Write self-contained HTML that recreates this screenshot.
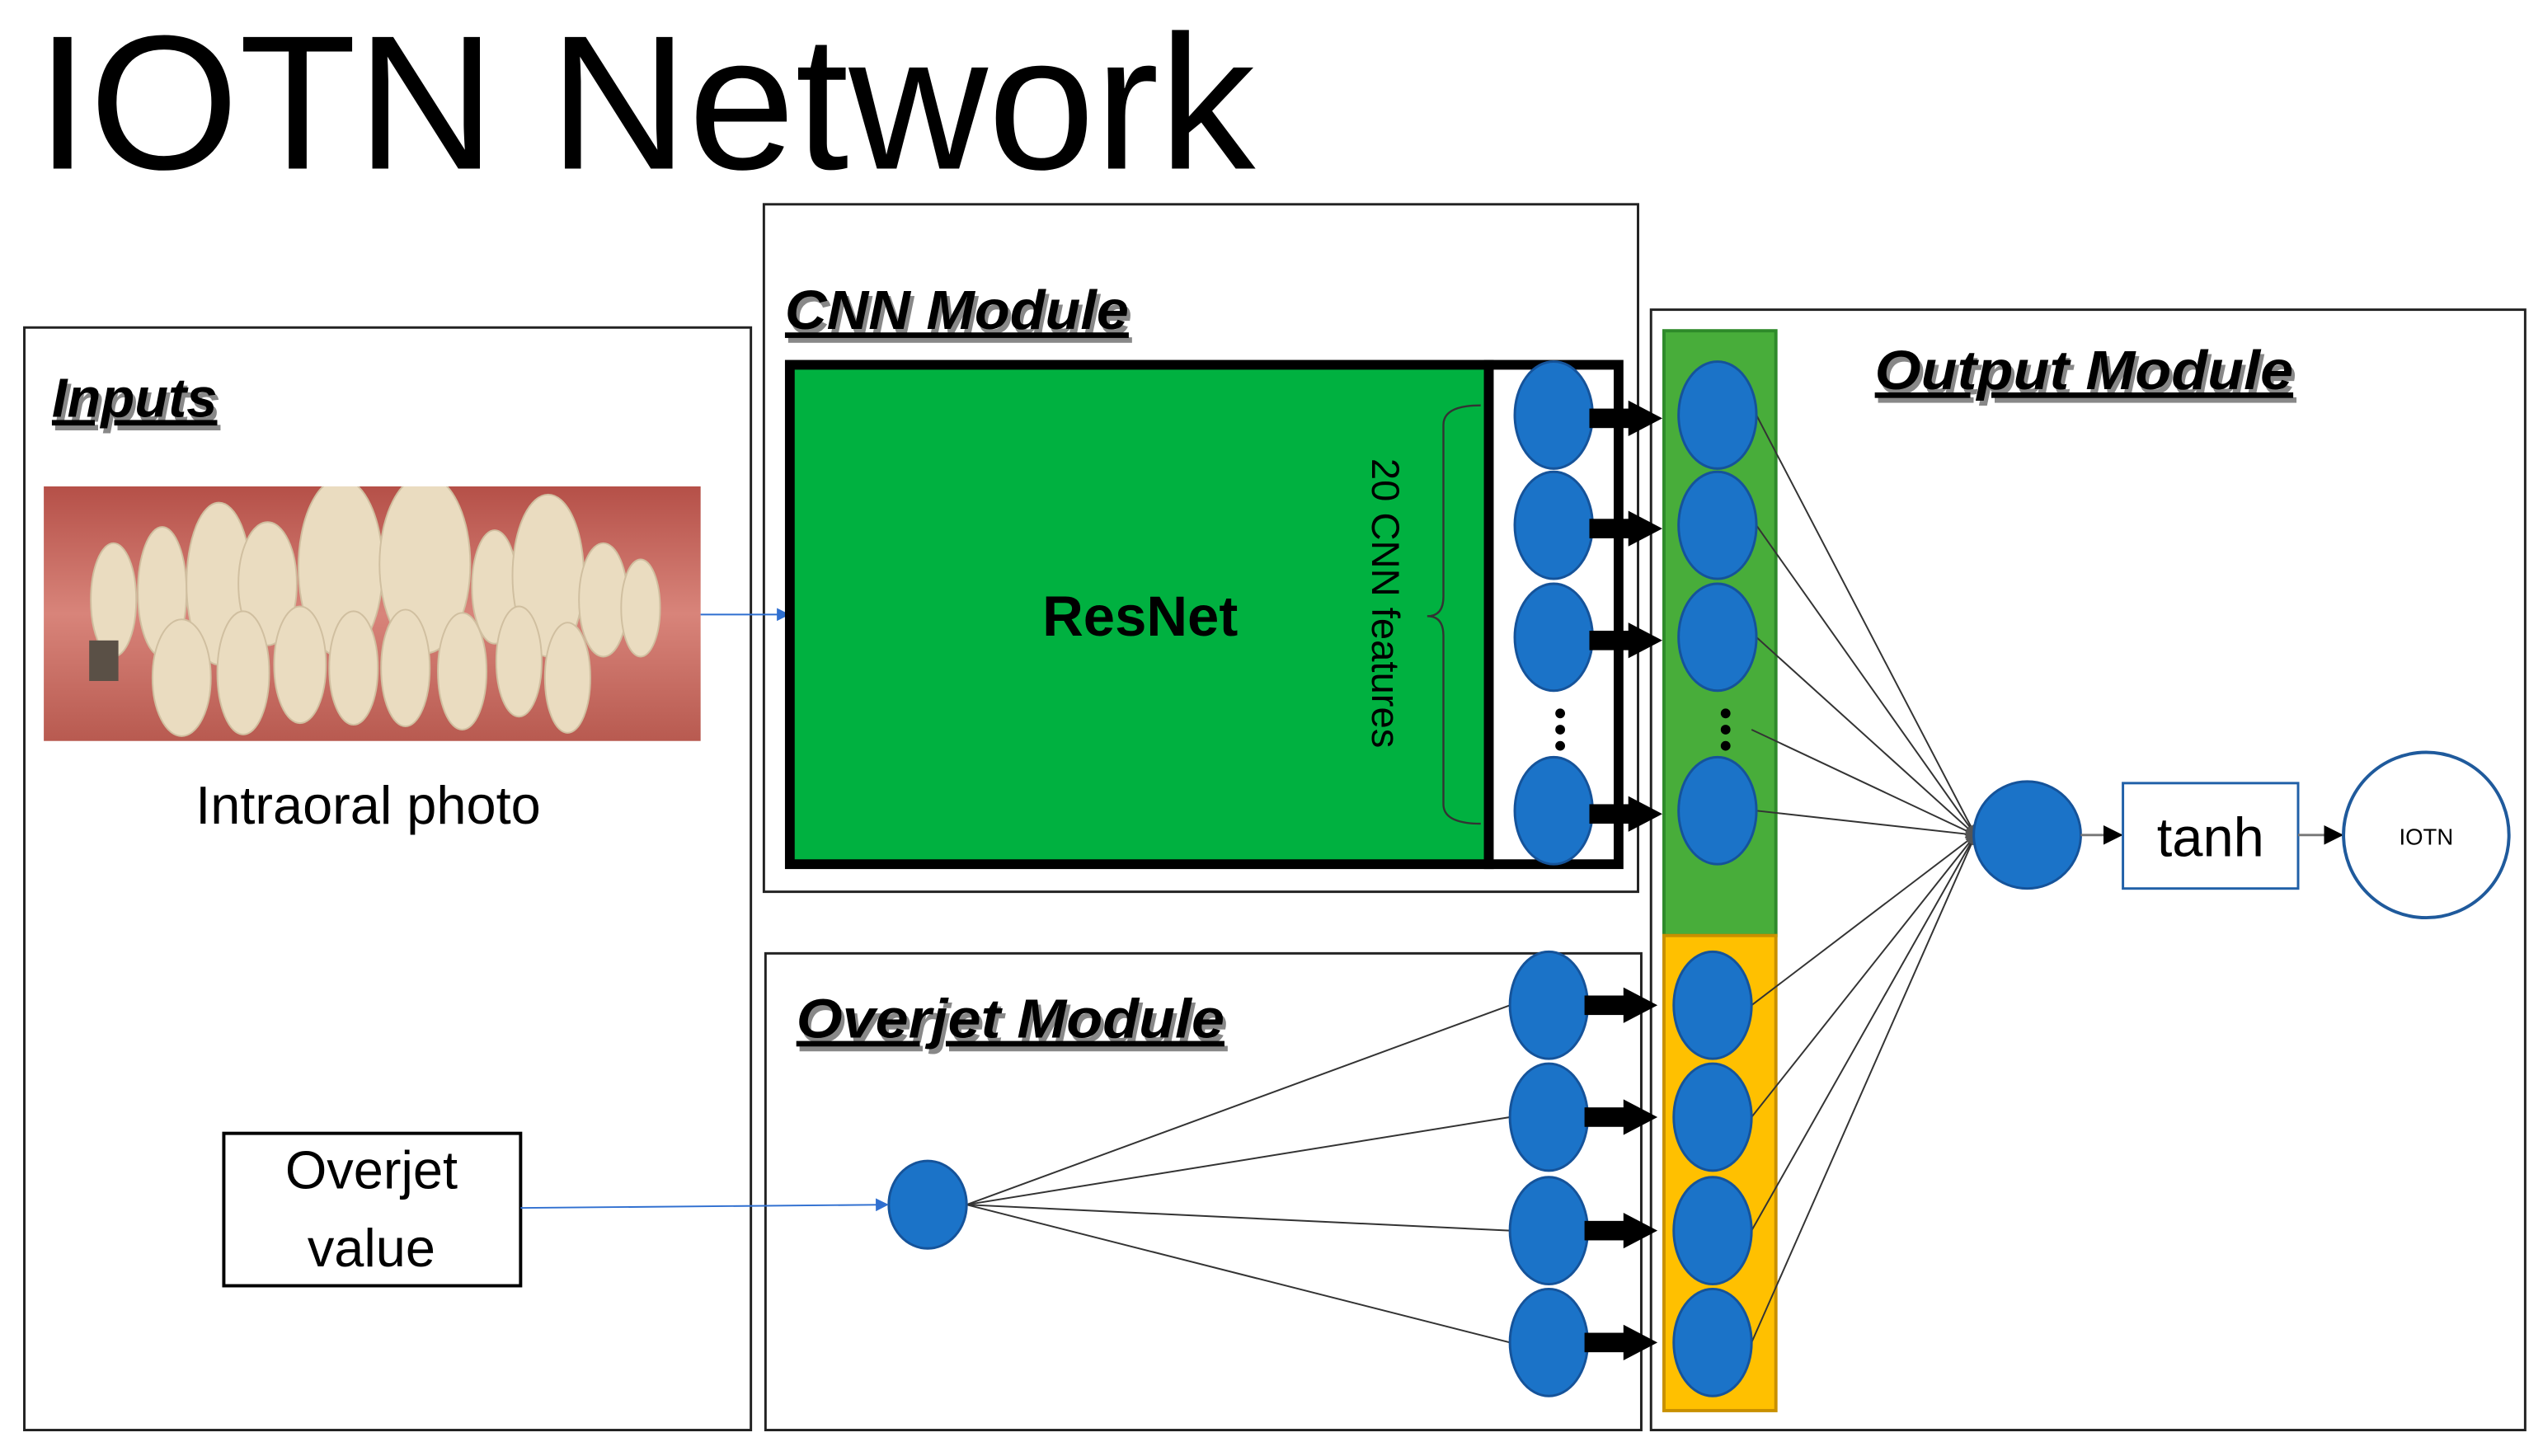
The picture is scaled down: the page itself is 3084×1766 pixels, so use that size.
<!DOCTYPE html>
<html><head><meta charset="utf-8"><style>
html,body{margin:0;padding:0;background:#fff;width:3084px;height:1766px;overflow:hidden}
svg{display:block}
text{font-family:"Liberation Sans",sans-serif}
.lbl{font-weight:bold;font-style:italic;font-size:34px;text-decoration:underline}
</style></head><body>
<svg width="3084" height="1766" viewBox="0 0 1568 898" preserveAspectRatio="none" xmlns="http://www.w3.org/2000/svg">
<defs>
<marker id="ab" markerWidth="8" markerHeight="8" refX="7" refY="4" orient="auto" markerUnits="userSpaceOnUse"><path d="M0,0 L8,4 L0,8z" fill="#2f6fd0"/></marker>
<marker id="ak" markerWidth="12" markerHeight="12" refX="11" refY="6" orient="auto" markerUnits="userSpaceOnUse"><path d="M0,0 L12,6 L0,12z" fill="#000"/></marker>
<marker id="at" markerWidth="6" markerHeight="6" refX="6" refY="3" orient="auto" markerUnits="userSpaceOnUse"><path d="M0,0 L6,3 L0,6z" fill="#555"/></marker>
<linearGradient id="gum" x1="0" y1="0" x2="0" y2="1"><stop offset="0" stop-color="#b55048"/><stop offset="0.5" stop-color="#d8847a"/><stop offset="1" stop-color="#b85a50"/></linearGradient>
<clipPath id="ph"><rect x="27" y="300" width="405" height="157"/></clipPath>
<g id="tk"><rect x="0" y="-6" width="26" height="12" fill="#000"/><path d="M24,-11 L45,0 L24,11z" fill="#000"/></g>
</defs>
<text x="22" y="104" font-size="118" fill="#000" textLength="752" lengthAdjust="spacingAndGlyphs">IOTN Network</text>

<rect x="15" y="202" width="448" height="680" fill="none" stroke="#222" stroke-width="1.5"/>
<rect x="471" y="126" width="539" height="424" fill="none" stroke="#222" stroke-width="1.5"/>
<rect x="472" y="588" width="540" height="294" fill="none" stroke="#222" stroke-width="1.5"/>
<rect x="1018" y="191" width="539" height="691" fill="none" stroke="#222" stroke-width="1.5"/>

<text x="34" y="260" fill="#888" class="lbl">Inputs</text><text x="32" y="257" class="lbl">Inputs</text>
<text x="486" y="206" fill="#888" class="lbl" textLength="212" lengthAdjust="spacingAndGlyphs">CNN Module</text><text x="484" y="203" class="lbl" textLength="212" lengthAdjust="spacingAndGlyphs">CNN Module</text>
<text x="1158" y="243" fill="#888" class="lbl" textLength="258" lengthAdjust="spacingAndGlyphs">Output Module</text><text x="1156" y="240" class="lbl" textLength="258" lengthAdjust="spacingAndGlyphs">Output Module</text>
<text x="493" y="643" fill="#888" class="lbl" textLength="264" lengthAdjust="spacingAndGlyphs">Overjet Module</text><text x="491" y="640" class="lbl" textLength="264" lengthAdjust="spacingAndGlyphs">Overjet Module</text>

<!-- photo -->
<rect x="27" y="300" width="405" height="157" fill="url(#gum)"/>
<g clip-path="url(#ph)" fill="#eadcc0" stroke="#d0bfa0" stroke-width="1">
<ellipse cx="70" cy="370" rx="14" ry="35"/><ellipse cx="100" cy="365" rx="15" ry="40"/><ellipse cx="135" cy="360" rx="20" ry="50"/>
<ellipse cx="165" cy="360" rx="18" ry="38"/><ellipse cx="210" cy="350" rx="26" ry="55"/><ellipse cx="262" cy="348" rx="28" ry="55"/>
<ellipse cx="305" cy="362" rx="14" ry="35"/><ellipse cx="338" cy="355" rx="22" ry="50"/><ellipse cx="372" cy="370" rx="15" ry="35"/><ellipse cx="395" cy="375" rx="12" ry="30"/>
<ellipse cx="112" cy="418" rx="18" ry="36"/><ellipse cx="150" cy="415" rx="16" ry="38"/><ellipse cx="185" cy="410" rx="16" ry="36"/>
<ellipse cx="218" cy="412" rx="15" ry="35"/><ellipse cx="250" cy="412" rx="15" ry="36"/><ellipse cx="285" cy="414" rx="15" ry="36"/>
<ellipse cx="320" cy="408" rx="14" ry="34"/><ellipse cx="350" cy="418" rx="14" ry="34"/>
</g>
<rect x="55" y="395" width="18" height="25" fill="#5a5046"/>
<text x="227" y="508" font-size="33" text-anchor="middle">Intraoral photo</text>
<line x1="432" y1="379" x2="486" y2="379" stroke="#2f6fd0" stroke-width="1" marker-end="url(#ab)"/>

<!-- ResNet -->
<rect x="487" y="225" width="431" height="308" fill="#00b140" stroke="#000" stroke-width="6"/>
<rect x="918" y="225" width="80" height="308" fill="#fff" stroke="#000" stroke-width="6"/>
<text x="703" y="392" font-size="35" font-weight="bold" text-anchor="middle">ResNet</text>
<path d="M913,250 Q890,250 890,262 L890,368 Q890,380 880,380 Q890,380 890,392 L890,496 Q890,508 913,508" fill="none" stroke="#333" stroke-width="1.2"/>
<text transform="translate(846,372) rotate(90)" font-size="24" text-anchor="middle">20 CNN features</text>

<!-- columns -->
<rect x="1026" y="204" width="69" height="373" fill="#48ad3a" stroke="#2e8a2a" stroke-width="2"/>
<rect x="1026" y="577" width="69" height="293" fill="#ffc000" stroke="#c89000" stroke-width="2"/>

<!-- fan lines -->
<g stroke="#333" stroke-width="1" marker-end="url(#at)">
<line x1="1083" y1="256" x2="1218" y2="515"/><line x1="1083" y1="324" x2="1218" y2="515"/><line x1="1083" y1="393" x2="1218" y2="515"/>
<line x1="1080" y1="450" x2="1218" y2="515"/><line x1="1083" y1="500" x2="1218" y2="515"/>
<line x1="1080" y1="620" x2="1218" y2="515"/><line x1="1080" y1="689" x2="1218" y2="515"/><line x1="1080" y1="759" x2="1218" y2="515"/><line x1="1080" y1="828" x2="1218" y2="515"/>
</g>
<g stroke="#333" stroke-width="1">
<line x1="596" y1="743" x2="931" y2="620"/><line x1="596" y1="743" x2="931" y2="689"/><line x1="596" y1="743" x2="931" y2="759"/><line x1="596" y1="743" x2="931" y2="828"/>
</g>

<g fill="#1b73c8" stroke="#15539a" stroke-width="1.5">
<ellipse cx="958" cy="256" rx="24" ry="33"/><ellipse cx="958" cy="324" rx="24" ry="33"/><ellipse cx="958" cy="393" rx="24" ry="33"/><ellipse cx="958" cy="500" rx="24" ry="33"/>
<ellipse cx="1059" cy="256" rx="24" ry="33"/><ellipse cx="1059" cy="324" rx="24" ry="33"/><ellipse cx="1059" cy="393" rx="24" ry="33"/><ellipse cx="1059" cy="500" rx="24" ry="33"/>
<ellipse cx="955" cy="620" rx="24" ry="33"/><ellipse cx="955" cy="689" rx="24" ry="33"/><ellipse cx="955" cy="759" rx="24" ry="33"/><ellipse cx="955" cy="828" rx="24" ry="33"/>
<ellipse cx="1056" cy="620" rx="24" ry="33"/><ellipse cx="1056" cy="689" rx="24" ry="33"/><ellipse cx="1056" cy="759" rx="24" ry="33"/><ellipse cx="1056" cy="828" rx="24" ry="33"/>
<ellipse cx="572" cy="743" rx="24" ry="27"/>
<ellipse cx="1250" cy="515" rx="33" ry="33"/>
</g>
<!-- thick arrows -->
<use href="#tk" x="980" y="258"/><use href="#tk" x="980" y="326"/><use href="#tk" x="980" y="395"/><use href="#tk" x="980" y="502"/>
<use href="#tk" x="977" y="620"/><use href="#tk" x="977" y="689"/><use href="#tk" x="977" y="759"/><use href="#tk" x="977" y="828"/>

<g fill="#000"><circle cx="962" cy="440" r="3"/><circle cx="962" cy="450" r="3"/><circle cx="962" cy="460" r="3"/>
<circle cx="1064" cy="440" r="3"/><circle cx="1064" cy="450" r="3"/><circle cx="1064" cy="460" r="3"/></g>

<line x1="1283" y1="515" x2="1308" y2="515" stroke="#777" stroke-width="1.5" marker-end="url(#ak)"/>
<rect x="1309" y="483" width="108" height="65" fill="#fff" stroke="#2060a8" stroke-width="1.5"/>
<text x="1363" y="528" font-size="34" text-anchor="middle">tanh</text>
<line x1="1417" y1="515" x2="1444" y2="515" stroke="#777" stroke-width="1.5" marker-end="url(#ak)"/>
<ellipse cx="1496" cy="515" rx="51" ry="51" fill="#fff" stroke="#1f5a9c" stroke-width="2"/>
<text x="1496" y="521" font-size="14" text-anchor="middle">IOTN</text>

<!-- overjet value -->
<rect x="138" y="699" width="183" height="94" fill="#fff" stroke="#000" stroke-width="2"/>
<text x="229" y="733" font-size="33" text-anchor="middle">Overjet</text>
<text x="229" y="781" font-size="33" text-anchor="middle">value</text>
<line x1="321" y1="745" x2="547" y2="743" stroke="#2f6fd0" stroke-width="1" marker-end="url(#ab)"/>
</svg>
</body></html>
